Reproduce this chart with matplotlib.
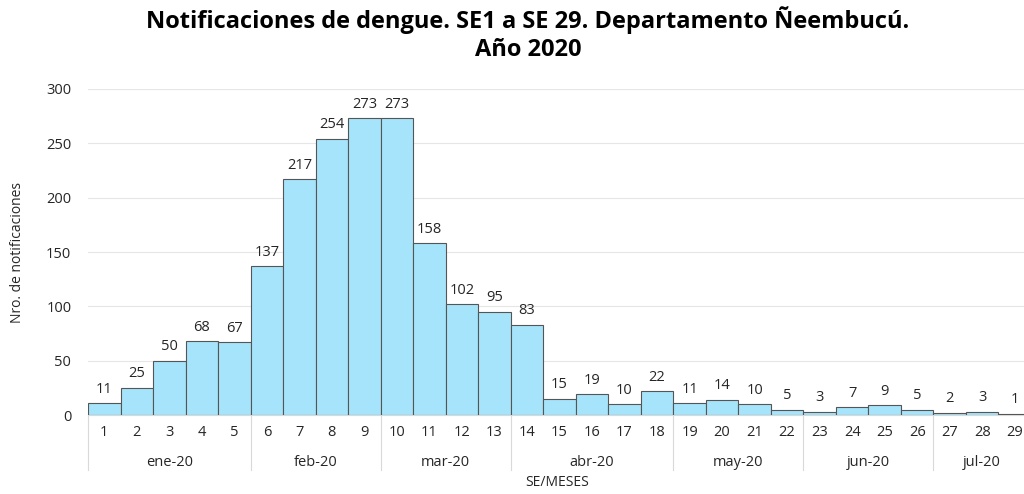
import matplotlib
matplotlib.use("Agg")
import matplotlib.pyplot as plt
import matplotlib.transforms as mtransforms

weeks = list(range(1, 30))
values = [11, 25, 50, 68, 67, 137, 217, 254, 273, 273, 158, 102, 95, 83,
          15, 19, 10, 22, 11, 14, 10, 5, 3, 7, 9, 5, 2, 3, 1]
months = ["ene-20", "feb-20", "mar-20", "abr-20", "may-20", "jun-20", "jul-20"]
month_weeks = [5, 4, 4, 5, 4, 4, 3]

plt.rcParams['font.family'] = ['Open Sans', 'DejaVu Sans']

fig = plt.figure(figsize=(10.24, 4.94), dpi=100)
W, H = 1024, 494
left, right, top, bottom = 88, 1031, 89, 415
ax = fig.add_axes([left / W, 1 - bottom / H, (right - left) / W, (bottom - top) / H])

ax.bar(weeks, values, width=1.0, color="#A6E4FB", edgecolor="#555555", linewidth=0.8, zorder=3)
for x, v in zip(weeks, values):
    ax.text(x, v + 6, str(v), ha="center", va="bottom", fontsize=10.5, color="#262626")

ax.set_xlim(0.5, 29.5)
ax.set_ylim(0, 300)
ax.set_yticks(range(0, 301, 50))
ax.yaxis.grid(True, color="#E6E6E6", linewidth=0.8, zorder=0)
ax.set_axisbelow(True)
for s in ["left", "right", "top"]:
    ax.spines[s].set_visible(False)
ax.spines["bottom"].set_color("#D9D9D9")
ax.tick_params(axis="y", length=0, labelsize=10.5, labelcolor="#262626", pad=12)
ax.set_xticks(weeks)
ax.set_xticklabels([str(w) for w in weeks])
ax.tick_params(axis="x", length=0, labelsize=10.5, labelcolor="#262626", pad=7)

trans = mtransforms.blended_transform_factory(ax.transData, ax.transAxes)
bounds = [0.5]
for n in month_weeks:
    bounds.append(bounds[-1] + n)
for b in bounds:
    ax.plot([b, b], [0, -0.17], transform=trans, color="#D9D9D9", linewidth=0.8, clip_on=False)
for i, m in enumerate(months):
    c = (bounds[i] + bounds[i + 1]) / 2
    ax.text(c, -0.145, m, transform=trans, ha="center", va="center", fontsize=10.5, color="#262626")

ax.text(557 / W, 1 - 482 / H, "SE/MESES", transform=fig.transFigure, ha="center", va="center",
        fontsize=10, color="#262626")
fig.text(18 / W, 1 - 252 / H, "Nro. de notificaciones", rotation=90, ha="center", va="center",
         fontsize=10, color="#262626")

fig.text(528 / W, 1 - 34 / H, "Notificaciones de dengue. SE1 a SE 29. Departamento Ñeembucú.\nAño 2020",
         ha="center", va="center", fontsize=17, fontweight="bold", color="black", linespacing=1.2)

fig.savefig("out.png", dpi=100)
